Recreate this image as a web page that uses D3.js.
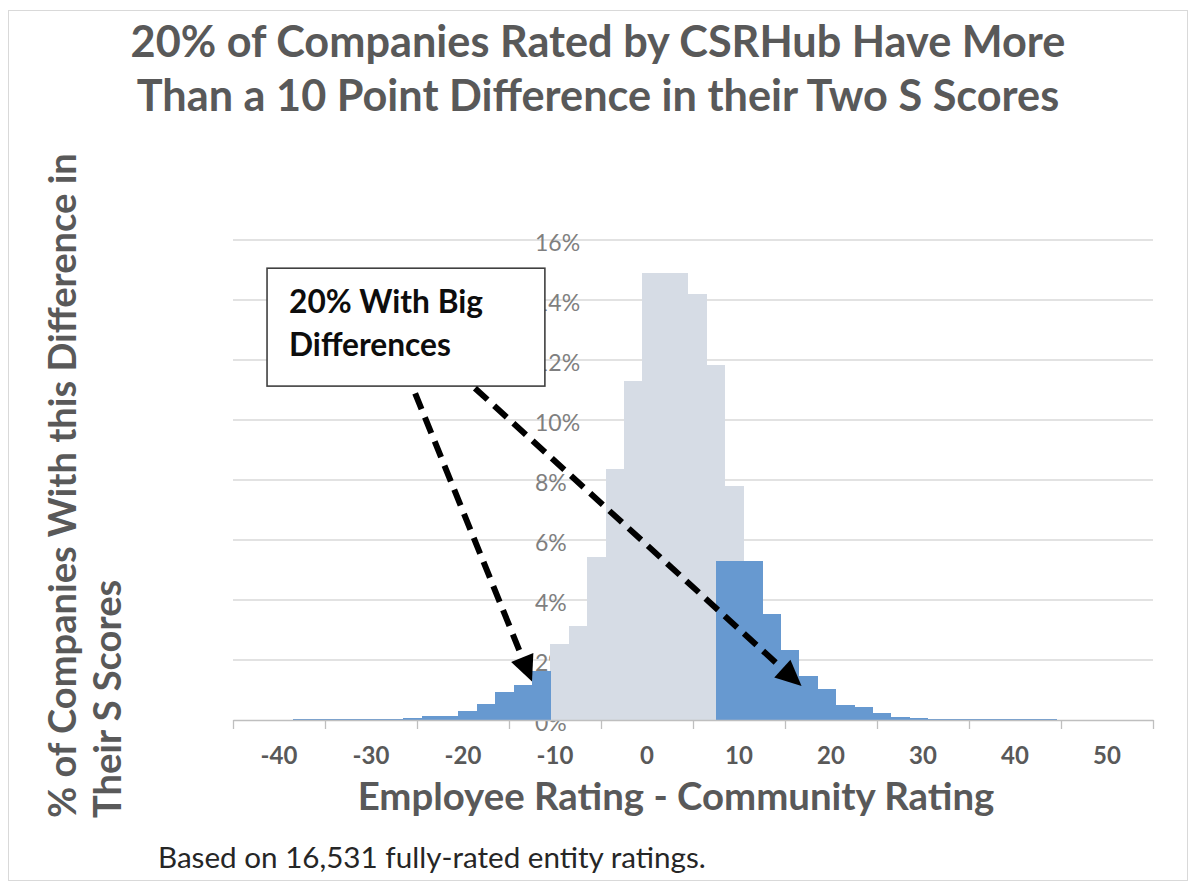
<!DOCTYPE html>
<html>
<head>
<meta charset="utf-8">
<script src="https://cdn.jsdelivr.net/npm/d3@7"></script>
<style>
  body { margin: 0; background: #fff; }
  text { font-family: Lato, "Open Sans", sans-serif; }
</style>
</head>
<body>
<div id="chart-container"></div>
<script>
const width = 1200;
const height = 888;

// % of companies per (employee - community) rating difference bin
const grayEdges = [-10.5, -8.5, -6.5, -4.5, -2.5, -0.5, 4.5, 6.5, 8.5, 10.5];
const grayPct = [2.53, 3.14, 5.44, 8.37, 11.31, 14.89, 14.19, 11.82, 7.8];

const leftEdges = [-38.5, -36.5, -34.5, -32.5, -30.5, -28.5, -26.5, -24.5, -22.5, -20.5, -18.5, -16.5, -14.5, -12.5, -10.5];
const leftPct = [0.02, 0.02, 0.03, 0.03, 0.04, 0.05, 0.08, 0.13, 0.13, 0.30, 0.55, 0.92, 1.17, 1.64];

const rightEdges = [7.5, 12.5, 14.5, 16.5, 18.5, 20.5, 22.5, 24.5, 26.5, 28.5, 30.5, 32.5, 34.5, 36.5, 38.5, 40.5, 42.5, 44.5];
const rightPct = [5.31, 3.53, 2.33, 1.47, 1.02, 0.51, 0.42, 0.23, 0.11, 0.08, 0.05, 0.04, 0.03, 0.03, 0.02, 0.02, 0.02];

const xTickLabels = [-40, -30, -20, -10, 0, 10, 20, 30, 40, 50];
const xTickMarks = [-45, -35, -25, -15, -5, 5, 15, 25, 35, 45, 55];
const yTicks = [0, 2, 4, 6, 8, 10, 12, 14, 16];

const titleLines = ["20% of Companies Rated by CSRHub Have More", "Than a 10 Point Difference in their Two S Scores"];
const yTitleLines = ["% of Companies With this Difference in", "Their S Scores"];
const xTitle = "Employee Rating - Community Rating";
const footnote = "Based on 16,531 fully-rated entity ratings.";
const calloutLines = ["20% With Big", "Differences"];

// callout box and arrows, in data units (rating difference, %)
const calloutBox = {x0: -41.3, x1: -11.1, y0: 15.06, y1: 11.13};
const arrows = [
    {from: [-25.2, 10.89], to: [-12.5, 1.28]},
    {from: [-18.7, 11.06], to: [16.8, 1.13]}
];

const grayColor = "#d6dce5";
const blueColor = "#6799d0";
const textGray = "#595959";

const svg = d3.select("#chart-container")
    .append("svg")
    .attr("width", width)
    .attr("height", height)
    .style("background-color", "#ffffff");

// outer chart border
svg.append("rect")
    .attr("x", 8.5).attr("y", 10.5)
    .attr("width", 1179).attr("height", 870)
    .attr("fill", "none")
    .attr("stroke", "#d9d9d9");

const x = d3.scaleLinear().domain([-45, 55]).range([233, 1153]);
const y = d3.scaleLinear().domain([0, 16]).range([720, 240]);

// shrink/grow a text so it spans a given width
function fitText(sel, w) {
    const len = sel.node().getComputedTextLength();
    const fs = parseFloat(sel.attr("font-size"));
    sel.attr("font-size", fs * w / len);
    return fs * w / len;
}

// title
const t1 = svg.append("text")
    .attr("x", 598).attr("y", 57)
    .attr("text-anchor", "middle")
    .attr("font-size", 40).attr("font-weight", "bold")
    .attr("fill", textGray)
    .text(titleLines[0]);
const titleSize = fitText(t1, 935);
svg.append("text")
    .attr("x", 598).attr("y", 111)
    .attr("text-anchor", "middle")
    .attr("font-size", titleSize).attr("font-weight", "bold")
    .attr("fill", textGray)
    .text(titleLines[1]);

// gridlines
svg.append("g")
    .selectAll("line")
    .data(yTicks.filter(d => d > 0))
    .join("line")
    .attr("x1", x(-45)).attr("x2", x(55))
    .attr("y1", d => y(d)).attr("y2", d => y(d))
    .attr("stroke", "#d9d9d9")
    .attr("stroke-width", 1.3);

// y labels sit at the zero line and are overdrawn by the bars
svg.append("g")
    .selectAll("text")
    .data(yTicks)
    .join("text")
    .attr("x", 535)
    .attr("y", d => y(d) + 5)
    .attr("dominant-baseline", "middle")
    .attr("font-size", 23)
    .attr("fill", "#7f7f7f")
    .text(d => d + "%");

function bins(edges, pct) {
    return pct.map((p, i) => ({x0: edges[i], x1: edges[i + 1], p: p}));
}

svg.append("g")
    .attr("shape-rendering", "crispEdges")
    .selectAll("rect")
    .data(bins(grayEdges, grayPct))
    .join("rect")
    .attr("x", d => x(d.x0))
    .attr("width", d => x(d.x1) - x(d.x0))
    .attr("y", d => y(d.p))
    .attr("height", d => y(0) - y(d.p))
    .attr("fill", grayColor);

svg.append("g")
    .attr("shape-rendering", "crispEdges")
    .selectAll("rect")
    .data(bins(leftEdges, leftPct).concat(bins(rightEdges, rightPct)))
    .join("rect")
    .attr("x", d => x(d.x0))
    .attr("width", d => x(d.x1) - x(d.x0) + 0.5)
    .attr("y", d => y(d.p))
    .attr("height", d => y(0) - y(d.p))
    .attr("fill", blueColor);

// x axis
const xAxis = svg.append("g")
    .attr("transform", `translate(0,${y(0)})`)
    .call(d3.axisBottom(x).tickValues(xTickMarks).tickFormat("").tickSize(9).tickSizeOuter(0));
xAxis.select(".domain").attr("stroke", "#bfbfbf").attr("stroke-width", 1.3);
xAxis.selectAll(".tick line").attr("stroke", "#bfbfbf").attr("stroke-width", 1.3);

svg.append("g")
    .selectAll("text")
    .data(xTickLabels)
    .join("text")
    .attr("x", d => x(d))
    .attr("y", 764)
    .attr("text-anchor", "middle")
    .attr("font-size", 24)
    .attr("font-weight", "bold")
    .attr("fill", textGray)
    .text(d => d);

// axis titles
const xt = svg.append("text")
    .attr("x", 676).attr("y", 810)
    .attr("text-anchor", "middle")
    .attr("font-size", 30).attr("font-weight", "bold")
    .attr("fill", textGray)
    .text(xTitle);
fitText(xt, 637);

const yTitle = svg.append("g")
    .attr("transform", "translate(0,818) rotate(-90)");
const yt1 = yTitle.append("text")
    .attr("x", 0).attr("y", 76)
    .attr("font-size", 30).attr("font-weight", "bold")
    .attr("fill", textGray)
    .text(yTitleLines[0]);
const ySize = fitText(yt1, 665);
yTitle.append("text")
    .attr("x", 0).attr("y", 121)
    .attr("font-size", ySize).attr("font-weight", "bold")
    .attr("fill", textGray)
    .text(yTitleLines[1]);

// footnote
const fn = svg.append("text")
    .attr("x", 158).attr("y", 868)
    .attr("font-size", 24)
    .attr("fill", "#262626")
    .text(footnote);
fitText(fn, 548);

// callout box
const bx = x(calloutBox.x0), by = y(calloutBox.y0);
svg.append("rect")
    .attr("x", bx).attr("y", by)
    .attr("width", x(calloutBox.x1) - bx)
    .attr("height", y(calloutBox.y1) - by)
    .attr("fill", "#ffffff")
    .attr("stroke", "#404040")
    .attr("stroke-width", 1.6);
const c1 = svg.append("text")
    .attr("x", bx + 22).attr("y", by + 45)
    .attr("font-size", 26).attr("font-weight", "bold")
    .attr("fill", "#0d0d0d")
    .text(calloutLines[0]);
const cSize = fitText(c1, 194);
svg.append("text")
    .attr("x", bx + 22).attr("y", by + 88)
    .attr("font-size", cSize).attr("font-weight", "bold")
    .attr("fill", "#0d0d0d")
    .text(calloutLines[1]);

// dashed arrows
const headLen = 26, headHalf = 12;
arrows.forEach(a => {
    const x1 = x(a.from[0]), y1 = y(a.from[1]);
    const x2 = x(a.to[0]), y2 = y(a.to[1]);
    const len = Math.hypot(x2 - x1, y2 - y1);
    const ux = (x2 - x1) / len, uy = (y2 - y1) / len;
    const bxp = x2 - ux * headLen, byp = y2 - uy * headLen;
    svg.append("line")
        .attr("x1", x1).attr("y1", y1)
        .attr("x2", bxp).attr("y2", byp)
        .attr("stroke", "#000")
        .attr("stroke-width", 6)
        .attr("stroke-dasharray", "17,9");
    svg.append("path")
        .attr("d", `M${x2},${y2}L${bxp - uy * headHalf},${byp + ux * headHalf}L${bxp + uy * headHalf},${byp - ux * headHalf}Z`)
        .attr("fill", "#000");
});
</script>
</body>
</html>
